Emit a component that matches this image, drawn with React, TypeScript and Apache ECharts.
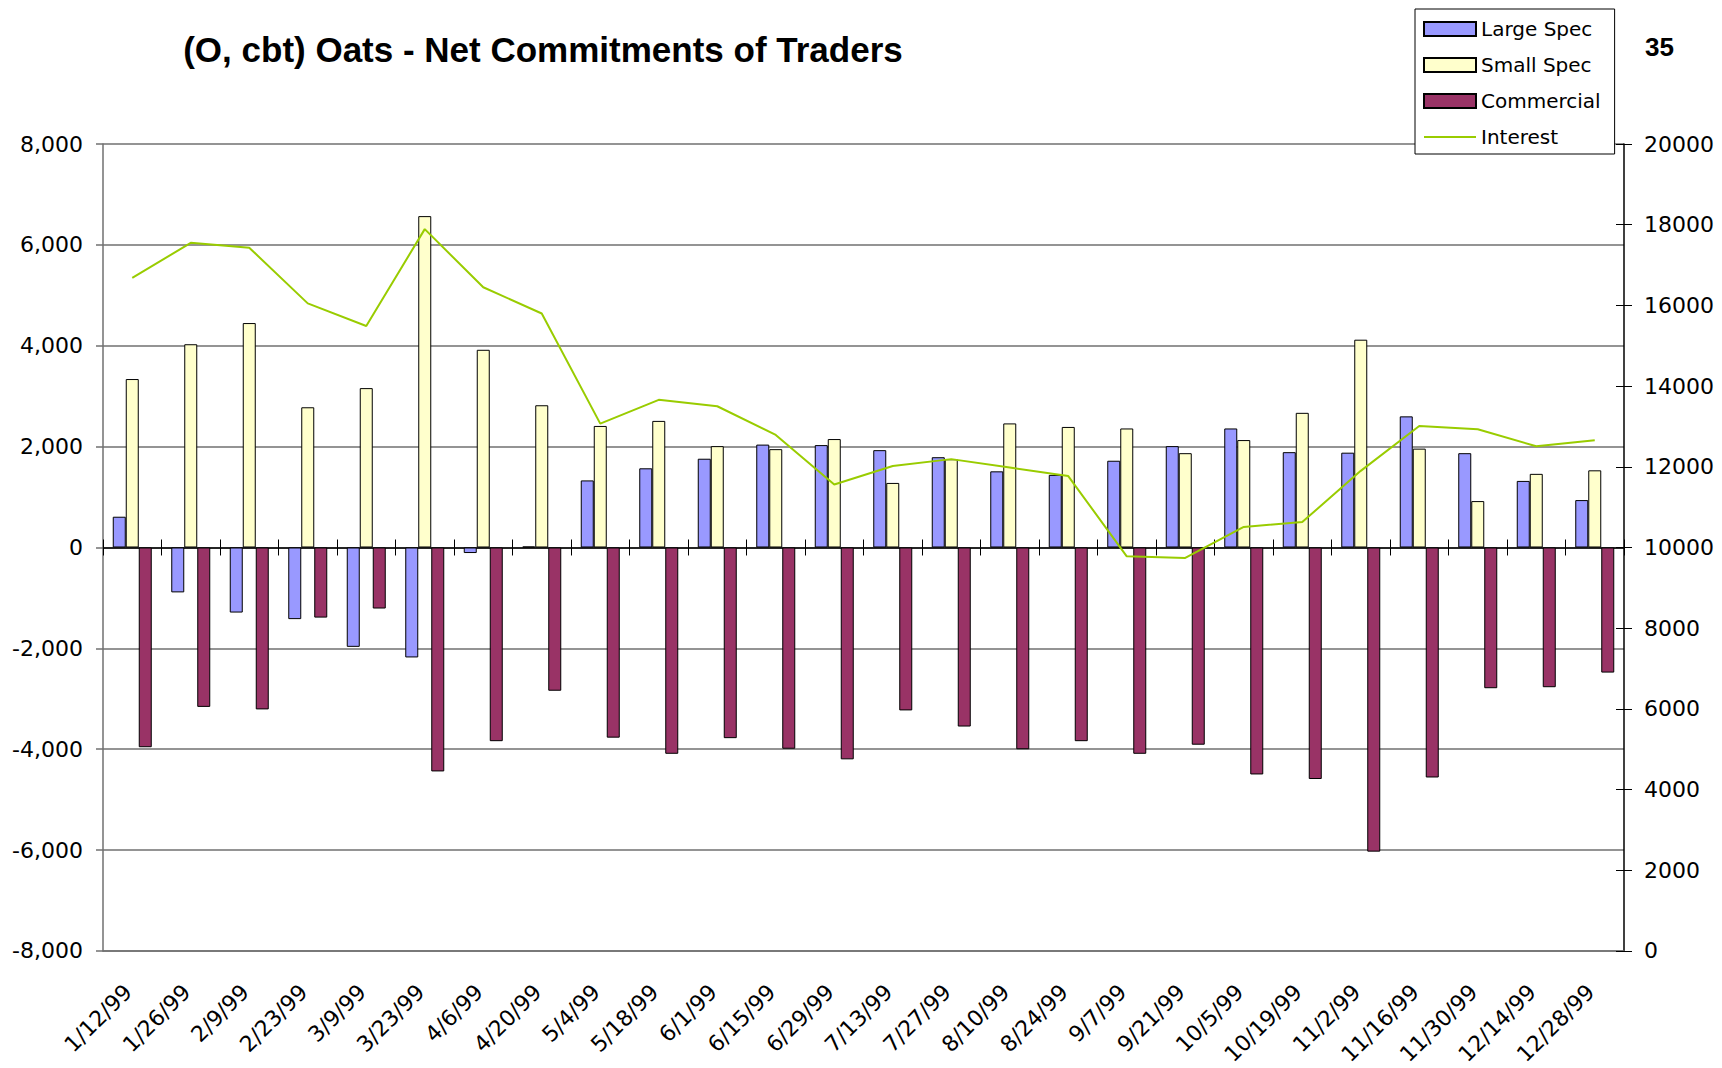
import React, { useEffect, useRef } from "react";
import * as echarts from "echarts";

const categories = [
  "1/12/99", "1/26/99", "2/9/99", "2/23/99", "3/9/99", "3/23/99", "4/6/99", "4/20/99",
  "5/4/99", "5/18/99", "6/1/99", "6/15/99", "6/29/99", "7/13/99", "7/27/99", "8/10/99",
  "8/24/99", "9/7/99", "9/21/99", "10/5/99", "10/19/99", "11/2/99", "11/16/99", "11/30/99",
  "12/14/99", "12/28/99",
];

const largeSpec = [
  610, -890, -1290, -1420, -1970, -2180, -110, 20, 1330, 1570, 1760, 2040, 2030, 1930,
  1790, 1510, 1440, 1720, 2010, 2360, 1890, 1880, 2600, 1870, 1320, 940,
];

const smallSpec = [
  3340, 4030, 4450, 2780, 3160, 6570, 3920, 2820, 2410, 2510, 2010, 1950, 2150, 1280,
  1750, 2460, 2390, 2360, 1870, 2130, 2670, 4120, 1960, 920, 1460, 1530,
];

const commercial = [
  -3960, -3160, -3210, -1390, -1210, -4440, -3840, -2840, -3770, -4090, -3780, -3990,
  -4200, -3230, -3550, -4000, -3840, -4090, -3910, -4500, -4590, -6030, -4560, -2790,
  -2770, -2480,
];

const interest = [
  16680, 17550, 17430, 16050, 15490, 17890, 16450, 15800, 13070, 13660, 13500, 12790,
  11560, 12020, 12190, 11980, 11770, 9780, 9740, 10510, 10630, 11900, 13010, 12930,
  12510, 12660,
];

const FONT = "DejaVu Sans";
const GRID_COLOR = "#707070";

export default function App() {
  const ref = useRef<HTMLDivElement>(null);

  useEffect(() => {
    if (!ref.current) return;
    const chart = echarts.init(ref.current, undefined, { renderer: "svg" });
    const barBase = {
      type: "bar",
      xAxisIndex: 0,
      yAxisIndex: 0,
      barWidth: 13,
      barGap: "0%",
    };
    chart.setOption({
      animation: false,
      backgroundColor: "#ffffff",
      title: {
        text: "(O, cbt) Oats - Net Commitments of Traders",
        left: 538,
        top: 27,
        textAlign: "center",
        textStyle: {
          fontFamily: "Liberation Sans",
          fontSize: 35,
          fontWeight: "bold",
          color: "#000",
        },
      },
      graphic: [
        {
          type: "text",
          left: 1645,
          top: 34,
          style: { text: "35", font: 'bold 26px "Liberation Sans"', fill: "#000" },
        },
      ],
      legend: {
        orient: "vertical",
        left: 1415,
        top: 9,
        padding: [10, 14, 7, 8],
        itemGap: 16,
        itemWidth: 52,
        itemHeight: 14,
        borderColor: "#000",
        borderWidth: 1,
        backgroundColor: "#ffffff",
        textStyle: { fontFamily: FONT, fontSize: 20, color: "#000" },
        data: [
          { name: "Large Spec", icon: "rect" },
          { name: "Small Spec", icon: "rect" },
          { name: "Commercial", icon: "rect" },
          { name: "Interest", itemStyle: { opacity: 0 } },
        ],
      },
      grid: { left: 103, top: 144, width: 1521, height: 808, containLabel: false },
      xAxis: [
        {
          type: "category",
          data: categories,
          position: "bottom",
          axisLine: { onZero: false, show: true, lineStyle: { color: GRID_COLOR, width: 1.5 } },
          axisTick: { show: false },
          axisLabel: {
            rotate: 45,
            margin: 33,
            interval: 0,
            padding: [0, 6, 0, 0],
            fontFamily: FONT,
            fontSize: 22,
            color: "#000",
          },
          splitLine: { show: false },
        },
        {
          type: "category",
          data: categories,
          position: "bottom",
          axisLine: { onZero: true, onZeroAxisIndex: 0, show: true, lineStyle: { color: "#000", width: 1.5 } },
          axisTick: { show: true, inside: false, length: 8, interval: 0, lineStyle: { color: "#000", width: 1 } },
          axisLabel: { show: false },
          splitLine: { show: false },
        },
        {
          type: "category",
          data: categories,
          position: "bottom",
          axisLine: { onZero: true, onZeroAxisIndex: 0, show: false },
          axisTick: { show: true, inside: true, length: 8, interval: 0, lineStyle: { color: "#000", width: 1 } },
          axisLabel: { show: false },
          splitLine: { show: false },
        },
      ],
      yAxis: [
        {
          type: "value",
          min: -8000,
          max: 8000,
          interval: 2000,
          position: "left",
          axisLine: { show: true, lineStyle: { color: GRID_COLOR, width: 1.5 } },
          axisTick: { show: true, length: 7, lineStyle: { color: GRID_COLOR, width: 1.5 } },
          axisLabel: {
            margin: 20,
            fontFamily: FONT,
            fontSize: 22,
            color: "#000",
            formatter: (v: number) => v.toLocaleString("en-US"),
          },
          splitLine: { show: true, lineStyle: { color: GRID_COLOR, width: 1.5 } },
        },
        {
          type: "value",
          min: 0,
          max: 20000,
          interval: 2000,
          position: "right",
          axisLine: { show: true, onZero: false, lineStyle: { color: "#000", width: 1.5 } },
          axisTick: { show: true, length: 8, lineStyle: { color: "#000", width: 1 } },
          axisLabel: {
            margin: 20,
            fontFamily: FONT,
            fontSize: 22,
            color: "#000",
            formatter: (v: number) => String(v),
          },
          splitLine: { show: false },
        },
        {
          type: "value",
          min: 0,
          max: 20000,
          interval: 2000,
          position: "right",
          axisLine: { show: false, onZero: false },
          axisTick: { show: true, inside: true, length: 8, lineStyle: { color: "#000", width: 1 } },
          axisLabel: { show: false },
          splitLine: { show: false },
        },
      ],
      series: [
        {
          ...barBase,
          name: "Large Spec",
          data: largeSpec,
          itemStyle: { color: "#9999FF", borderColor: "#000", borderWidth: 1 },
        },
        {
          ...barBase,
          name: "Small Spec",
          data: smallSpec,
          itemStyle: { color: "#FFFFCC", borderColor: "#000", borderWidth: 1 },
        },
        {
          ...barBase,
          name: "Commercial",
          data: commercial,
          itemStyle: { color: "#993366", borderColor: "#000", borderWidth: 1 },
        },
        {
          type: "line",
          name: "Interest",
          xAxisIndex: 0,
          yAxisIndex: 1,
          data: interest,
          symbol: "none",
          showSymbol: false,
          itemStyle: { color: "#99CC00" },
          lineStyle: { color: "#99CC00", width: 2 },
          z: 5,
        },
      ],
    });
    return () => chart.dispose();
  }, []);

  return (
    <div
      ref={ref}
      style={{
        position: "absolute",
        left: 0,
        top: 0,
        width: 1722,
        height: 1068,
        overflow: "hidden",
        background: "#fff",
      }}
    />
  );
}
